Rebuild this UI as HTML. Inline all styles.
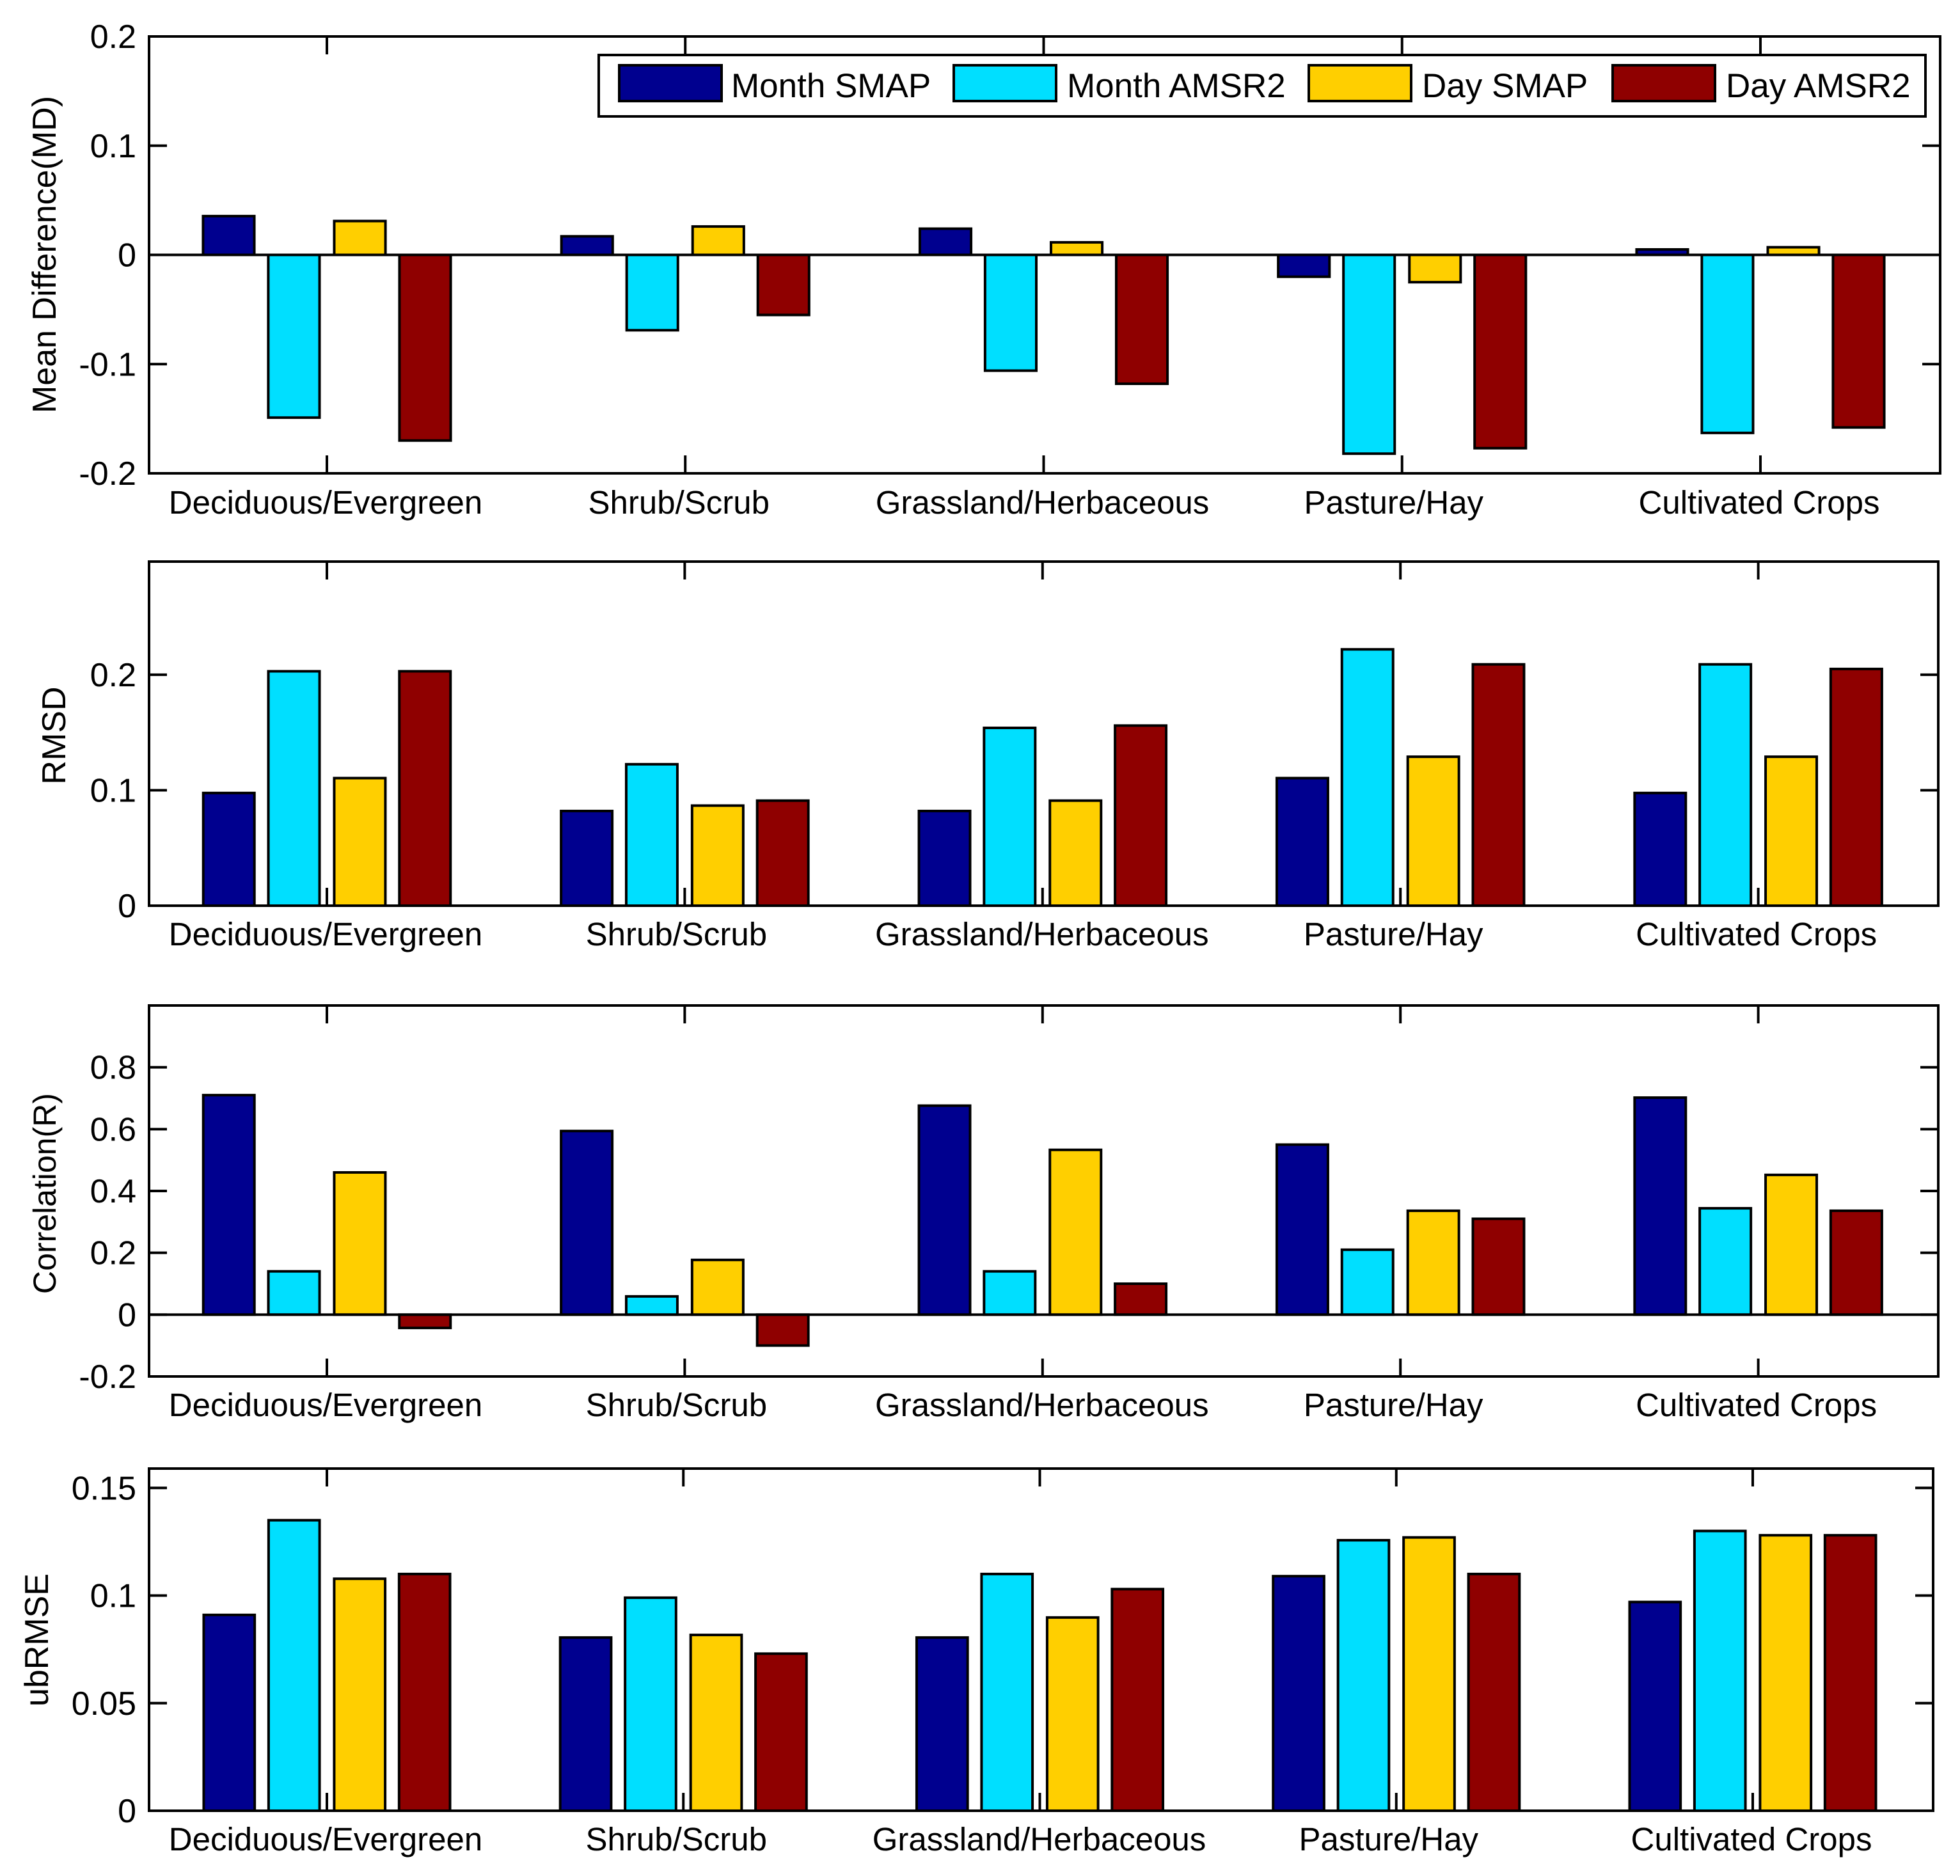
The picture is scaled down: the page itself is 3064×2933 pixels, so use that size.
<!DOCTYPE html>
<html lang="en">
<head>
<meta charset="utf-8">
<title>Land cover comparison of SMAP and AMSR2 soil moisture</title>
<style>
html,body{margin:0;padding:0;background:#fff;}
svg{display:block;}
text{font-family:"Liberation Sans",Arial,sans-serif;font-size:52px;fill:#000;text-rendering:geometricPrecision;}
.xlab{font-size:51px;}
.leg{font-size:53px;}
.title-small{font-size:50px;}
</style>
</head>
<body>
<svg id="chart" xmlns="http://www.w3.org/2000/svg" width="3064" height="2933" viewBox="0 0 3064 2933"></svg>
<script>
const categories = ['Deciduous/Evergreen', 'Shrub/Scrub', 'Grassland/Herbaceous', 'Pasture/Hay', 'Cultivated Crops'];
const seriesNames = ['Month SMAP', 'Month AMSR2', 'Day SMAP', 'Day AMSR2'];

const mdMonthSmap = [0.0355, 0.017, 0.024, -0.020, 0.005];
const mdMonthAmsr2 = [-0.149, -0.069, -0.106, -0.182, -0.163];
const mdDaySmap = [0.031, 0.026, 0.0115, -0.025, 0.007];
const mdDayAmsr2 = [-0.170, -0.055, -0.118, -0.177, -0.158];
const mdTicks = [-0.2, -0.1, 0, 0.1, 0.2];
const mdTickLabels = ['-0.2', '-0.1', '0', '0.1', '0.2'];

const rmsdMonthSmap = [0.0976, 0.082, 0.082, 0.1105, 0.0976];
const rmsdMonthAmsr2 = [0.203, 0.1225, 0.154, 0.222, 0.209];
const rmsdDaySmap = [0.1105, 0.0867, 0.091, 0.129, 0.129];
const rmsdDayAmsr2 = [0.203, 0.091, 0.156, 0.209, 0.205];
const rmsdTicks = [0, 0.1, 0.2];
const rmsdTickLabels = ['0', '0.1', '0.2'];

const corrMonthSmap = [0.71, 0.594, 0.676, 0.550, 0.702];
const corrMonthAmsr2 = [0.14, 0.059, 0.14, 0.21, 0.344];
const corrDaySmap = [0.460, 0.177, 0.533, 0.336, 0.452];
const corrDayAmsr2 = [-0.043, -0.10, 0.10, 0.31, 0.336];
const corrTicks = [-0.2, 0, 0.2, 0.4, 0.6, 0.8];
const corrTickLabels = ['-0.2', '0', '0.2', '0.4', '0.6', '0.8'];

const ubMonthSmap = [0.091, 0.0805, 0.0805, 0.109, 0.097];
const ubMonthAmsr2 = [0.135, 0.099, 0.110, 0.1257, 0.130];
const ubDaySmap = [0.1078, 0.0817, 0.0898, 0.127, 0.128];
const ubDayAmsr2 = [0.110, 0.073, 0.103, 0.110, 0.128];
const ubTicks = [0, 0.05, 0.1, 0.15];
const ubTickLabels = ['0', '0.05', '0.1', '0.15'];

const seriesColors = ['#00008f', '#00dfff', '#ffcf00', '#8f0000'];
const barCenters = [-0.274, -0.092, 0.092, 0.274];
const barWidth = 0.143;

const panels = [
  { key: 'md', title: 'Mean Difference(MD)', values: [mdMonthSmap, mdMonthAmsr2, mdDaySmap, mdDayAmsr2],
    ticks: mdTicks, tickLabels: mdTickLabels, yMin: -0.2, yMax: 0.2, top: 57, bottom: 740, right: 3033,
    firstTick: 511, tickStep: 560.25, labelBase: 803, labelShift: [-2, -10, -2, -13, -2],
    titleX: 87, titleY: 398, titleClass: '' },
  { key: 'rmsd', title: 'RMSD', values: [rmsdMonthSmap, rmsdMonthAmsr2, rmsdDaySmap, rmsdDayAmsr2],
    ticks: rmsdTicks, tickLabels: rmsdTickLabels, yMin: 0, yMax: 0.298, top: 878, bottom: 1416, right: 3030,
    firstTick: 511, tickStep: 559.4, labelBase: 1478, labelShift: [-2, -13, -1, -11, -3],
    titleX: 102, titleY: 1150, titleClass: '' },
  { key: 'corr', title: 'Correlation(R)', values: [corrMonthSmap, corrMonthAmsr2, corrDaySmap, corrDayAmsr2],
    ticks: corrTicks, tickLabels: corrTickLabels, yMin: -0.2, yMax: 1.0, top: 1572, bottom: 2152, right: 3030,
    firstTick: 511, tickStep: 559.4, labelBase: 2214, labelShift: [-2, -13, -1, -11, -3],
    titleX: 87, titleY: 1866, titleClass: 'title-small' },
  { key: 'ubrmse', title: 'ubRMSE', values: [ubMonthSmap, ubMonthAmsr2, ubDaySmap, ubDayAmsr2],
    ticks: ubTicks, tickLabels: ubTickLabels, yMin: 0, yMax: 0.159, top: 2296, bottom: 2831, right: 3022,
    firstTick: 511, tickStep: 557.25, labelBase: 2893, labelShift: [-2, -11, -1, -12, -2],
    titleX: 75, titleY: 2564, titleClass: '' }
];

const FRAME_LEFT = 233;
const TICK_LEN = 28;
const LINE = 4;
const svg = document.getElementById('chart');
const NS = 'http://www.w3.org/2000/svg';

function mk(tag, attrs, parent, txt) {
  const n = document.createElementNS(NS, tag);
  for (const k in attrs) n.setAttribute(k, attrs[k]);
  if (txt !== undefined) n.textContent = txt;
  parent.appendChild(n);
  return n;
}

function seg(x1, y1, x2, y2, parent) {
  return mk('line', { x1: x1, y1: y1, x2: x2, y2: y2, stroke: '#000', 'stroke-width': LINE }, parent);
}

function slug(s) {
  return s.toLowerCase().replace(/[^a-z0-9]+/g, '-').replace(/^-|-$/g, '');
}

panels.forEach(function (p) {
  const y = function (v) { return p.bottom - (v - p.yMin) / (p.yMax - p.yMin) * (p.bottom - p.top); };
  const x = function (c) { return p.firstTick + c * p.tickStep; };

  const g = mk('g', {}, svg);
  
  

  const bg = mk('rect', { x: FRAME_LEFT, y: p.top, width: p.right - FRAME_LEFT, height: p.bottom - p.top, fill: '#fff' }, g);
  
  

  p.ticks.forEach(function (v, i) {
    const left = seg(FRAME_LEFT, y(v), FRAME_LEFT + TICK_LEN, y(v), g);
    
    
    const right = seg(p.right - TICK_LEN, y(v), p.right, y(v), g);
    
    
    const lab = mk('text', { x: 213, y: y(v) + 18, 'text-anchor': 'end' }, g, p.tickLabels[i]);
    
    
  });

  categories.forEach(function (name, c) {
    const up = seg(x(c), p.top, x(c), p.top + TICK_LEN, g);
    
    
    const down = seg(x(c), p.bottom - TICK_LEN, x(c), p.bottom, g);
    
    
    const lab = mk('text', { x: x(c) + p.labelShift[c], y: p.labelBase, 'text-anchor': 'middle', class: 'xlab' }, g, name);
    
    
  });

  p.values.forEach(function (vals, s) {
    vals.forEach(function (v, c) {
      const w = barWidth * p.tickStep;
      const cx = x(c + barCenters[s]);
      const y0 = y(0), yv = y(v);
      const bar = mk('rect', { x: cx - w / 2, y: Math.min(y0, yv), width: w, height: Math.abs(yv - y0),
        fill: seriesColors[s], stroke: '#000', 'stroke-width': LINE }, g);
      
      
    });
  });

  if (p.yMin < 0) {
    const base = seg(FRAME_LEFT, y(0), p.right, y(0), g);
    
    
  }

  const frame = mk('rect', { x: FRAME_LEFT, y: p.top, width: p.right - FRAME_LEFT, height: p.bottom - p.top,
    fill: 'none', stroke: '#000', 'stroke-width': LINE }, g);
  
  

  const title = mk('text', { x: p.titleX, y: p.titleY, 'text-anchor': 'middle', class: p.titleClass,
    transform: 'rotate(-90 ' + p.titleX + ' ' + p.titleY + ')' }, g, p.title);
  
  
});

const legend = mk('g', {}, svg);



const legendBox = mk('rect', { x: 936, y: 86, width: 2074, height: 96, fill: '#fff', stroke: '#000', 'stroke-width': LINE }, legend);



const legendSwatchX = [968, 1491, 2046, 2521];
const legendTextX = [1143, 1668, 2223, 2698];
seriesNames.forEach(function (name, s) {
  const sw = mk('rect', { x: legendSwatchX[s], y: 102, width: 160, height: 56, fill: seriesColors[s], stroke: '#000', 'stroke-width': LINE }, legend);
  
  
  const t = mk('text', { x: legendTextX[s], y: 152, class: 'leg' }, legend, name);
  
  
});
</script>
</body>
</html>
